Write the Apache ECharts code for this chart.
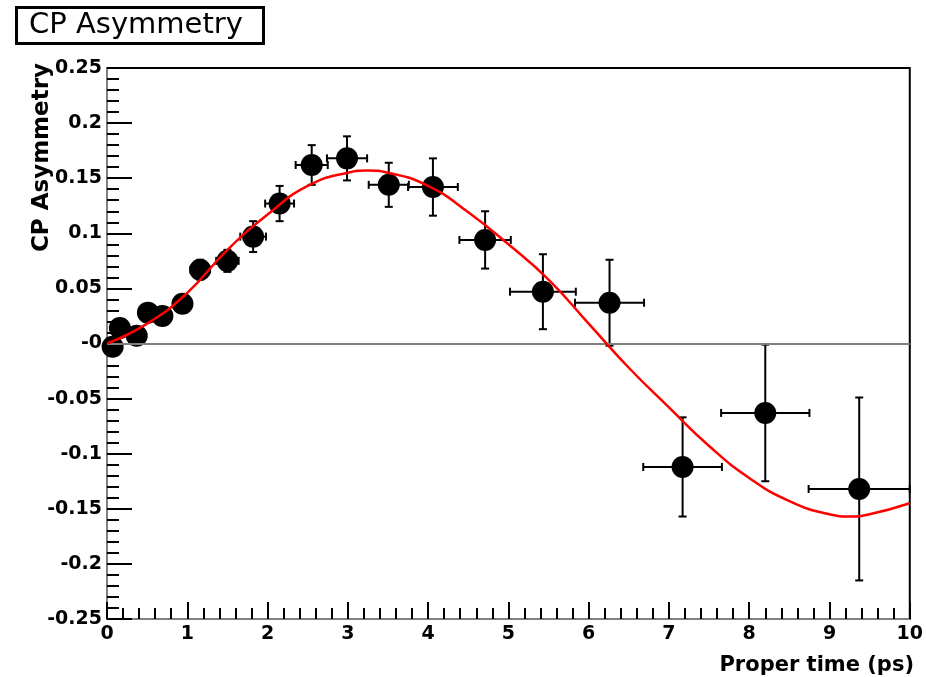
<!DOCTYPE html>
<html>
<head>
<meta charset="utf-8">
<script src="https://cdn.jsdelivr.net/npm/echarts@6/dist/echarts.min.js"></script>
<style>html,body{margin:0;padding:0;background:#fff}#c{width:926px;height:677px}</style>
</head>
<body>
<div id="c"></div>
<script>
// Measured points
var ptX    = [0.07, 0.16, 0.37, 0.51, 0.69, 0.94, 1.16, 1.50, 1.82, 2.15, 2.55, 2.99, 3.51, 4.06, 4.71, 5.43, 6.26, 7.17, 8.20, 9.37];
var ptY    = [-0.003, 0.014, 0.007, 0.028, 0.025, 0.036, 0.067, 0.075, 0.097, 0.127, 0.162, 0.168, 0.144, 0.142, 0.094, 0.047, 0.037, -0.112, -0.063, -0.132];
var ptXErr = [0.05, 0.05, 0.08, 0.08, 0.1, 0.1, 0.12, 0.14, 0.16, 0.18, 0.2, 0.25, 0.25, 0.31, 0.32, 0.41, 0.43, 0.49, 0.55, 0.63];
var ptYErr = [0.006, 0.006, 0.006, 0.007, 0.007, 0.008, 0.009, 0.010, 0.014, 0.016, 0.018, 0.020, 0.020, 0.026, 0.026, 0.034, 0.039, 0.045, 0.062, 0.083];

// Fit curve
var curveT = [0, 0.5, 1.0, 1.5, 2.0, 2.5, 3.0, 3.25, 3.5, 4.0, 4.5, 5.0, 5.5, 6.0, 6.5, 7.0, 7.5, 8.0, 8.5, 9.0, 9.25, 9.5, 10.0];
var curveY = [0, 0.018, 0.046, 0.085, 0.117, 0.143, 0.155, 0.157, 0.155, 0.143, 0.119, 0.090, 0.058, 0.018, -0.022, -0.058, -0.093, -0.122, -0.143, -0.155, -0.157, -0.155, -0.145];

var xTicks = [0, 1, 2, 3, 4, 5, 6, 7, 8, 9, 10];

var pts = ptX.map(function (x, i) { return [x, ptY[i], ptXErr[i], ptYErr[i]]; });
var curve = curveT.map(function (t, i) { return [t, curveY[i]]; });

var chart = echarts.init(document.getElementById('c'));
var lblFont = { fontFamily: 'DejaVu Sans', fontWeight: 'bold', fontSize: 19, color: '#000' };

chart.setOption({
  animation: false,
  backgroundColor: '#fff',
  grid: { left: 107, right: 12, top: 68, bottom: 58, show: true, borderColor: '#000', borderWidth: 2, backgroundColor: 'transparent' },
  xAxis: {
    type: 'value', min: 0, max: 10, interval: 1,
    axisLine: { show: true, onZero: false, lineStyle: { color: '#808080', width: 2 } },
    axisTick: { show: true, inside: true, length: 17, lineStyle: { color: '#000', width: 2 } },
    minorTick: { show: true, splitNumber: 5, length: 11, lineStyle: { color: '#000', width: 2 } },
    splitLine: { show: false },
    axisLabel: Object.assign({ margin: 6, formatter: function (v) { return String(v); } }, lblFont)
  },
  yAxis: {
    type: 'value', min: -0.25, max: 0.25, interval: 0.05,
    axisLine: { show: true, onZero: false, lineStyle: { color: '#808080', width: 2 } },
    axisTick: { show: true, inside: true, length: 25, lineStyle: { color: '#000', width: 2 } },
    minorTick: { show: true, splitNumber: 5, length: 12, lineStyle: { color: '#000', width: 2 } },
    splitLine: { show: false },
    axisLabel: Object.assign({ margin: 5, formatter: function (v) {
      var r = Math.round(v * 100) / 100;
      if (Math.abs(r) < 1e-9) return '-0';
      return String(r);
    } }, lblFont)
  },
  series: [
    {
      type: 'line', data: [], silent: true,
      markLine: { silent: true, symbol: 'none', label: { show: false },
        lineStyle: { color: '#808080', width: 2, type: 'solid' }, data: [{ yAxis: 0 }] }
    },
    {
      type: 'custom', z: 3,
      data: pts,
      renderItem: function (params, api) {
        var x = api.value(0), y = api.value(1), ex = api.value(2), ey = api.value(3);
        var c = api.coord([x, y]);
        var l = api.coord([x - ex, y]), r = api.coord([x + ex, y]);
        var t = api.coord([x, y + ey]), b = api.coord([x, y - ey]);
        var st = { stroke: '#000', lineWidth: 2 };
        var cap = 4;
        return { type: 'group', children: [
          { type: 'line', shape: { x1: l[0], y1: c[1], x2: r[0], y2: c[1] }, style: st },
          { type: 'line', shape: { x1: c[0], y1: t[1], x2: c[0], y2: b[1] }, style: st },
          { type: 'line', shape: { x1: l[0], y1: c[1] - cap, x2: l[0], y2: c[1] + cap }, style: st },
          { type: 'line', shape: { x1: r[0], y1: c[1] - cap, x2: r[0], y2: c[1] + cap }, style: st },
          { type: 'line', shape: { x1: c[0] - cap, y1: t[1], x2: c[0] + cap, y2: t[1] }, style: st },
          { type: 'line', shape: { x1: c[0] - cap, y1: b[1], x2: c[0] + cap, y2: b[1] }, style: st }
        ] };
      }
    },
    {
      type: 'scatter', z: 4, symbol: 'circle', symbolSize: 22,
      itemStyle: { color: '#000', opacity: 1 },
      data: pts.map(function (p) { return [p[0], p[1]]; })
    },
    {
      type: 'line', z: 5, smooth: true, showSymbol: false, symbol: 'none',
      lineStyle: { color: '#ff0000', width: 2.5 },
      data: curve
    }
  ],
  graphic: [
    { type: 'rect', left: 15, top: 6, shape: { width: 247, height: 36 }, style: { fill: '#fff', stroke: '#000', lineWidth: 3 } },
    { type: 'text', x: 29, y: 25, style: { text: 'CP Asymmetry', font: '29px "DejaVu Sans"', fill: '#000', textVerticalAlign: 'middle', textAlign: 'left' } },
    { type: 'text', x: 42, y: 63, rotation: Math.PI / 2, style: { text: 'CP Asymmetry', font: 'bold 23px "DejaVu Sans"', fill: '#000', textAlign: 'right', textVerticalAlign: 'middle' } },
    { type: 'text', x: 914, y: 666, style: { text: 'Proper time (ps)', font: 'bold 21px "DejaVu Sans"', fill: '#000', textAlign: 'right', textVerticalAlign: 'middle' } }
  ]
});
</script>
</body>
</html>
